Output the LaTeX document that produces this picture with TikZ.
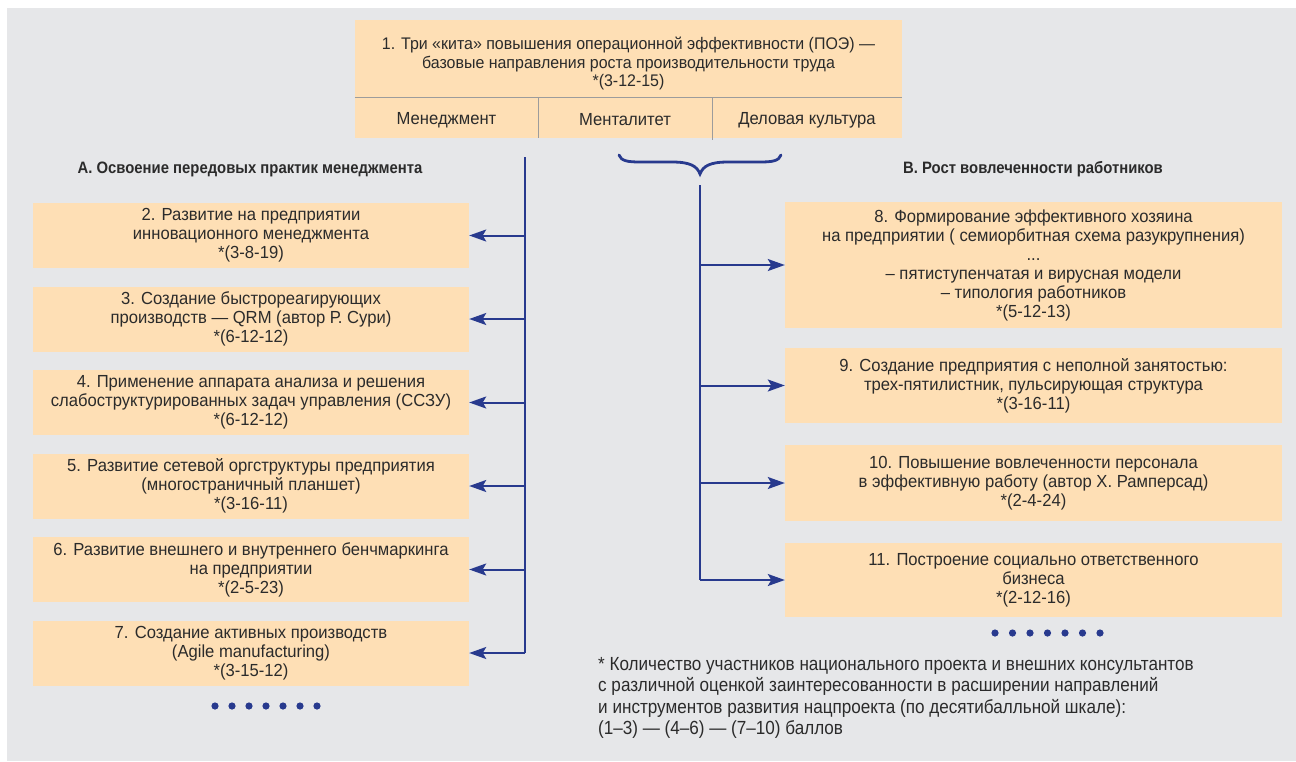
\documentclass[tikz,border=0pt]{standalone}
\usepackage{fontspec}
\setmainfont{Liberation Sans}[FakeStretch=0.9]
\newfontfamily\boxfont{Liberation Sans}[FakeStretch=0.95]
\usetikzlibrary{positioning, arrows.meta}
\definecolor{bggray}{HTML}{E6E7E9}
\definecolor{boxfill}{HTML}{FEDFB5}
\definecolor{navy}{HTML}{283A8E}
\definecolor{inkgray}{HTML}{2B2B2B}
\definecolor{rulegray}{HTML}{9C9C9C}
\tikzset{
every node/.style={text=inkgray, font=\boxfont\fontsize{17.5}{19}\selectfont, align=center, inner sep=0pt}, % all texts
lbox/.style={fill=boxfill, minimum width=436pt, minimum height=65pt}, % boxes of column A
rbox/.style={fill=boxfill, minimum width=497pt}, % boxes of column B
head/.style={font=\fontsize{16.5}{18.5}\selectfont\bfseries}, % column titles
link/.style={draw=navy, line width=2pt, -{Stealth[length=17pt, width=12pt, inset=3.5pt]}}, % trunk to box
trunk/.style={draw=navy, line width=2pt}, % vertical lines
divider/.style={draw=rulegray, line width=0.8pt}, % rules in the top box
node distance=83.5pt, % pitch of the boxes in column A
}

\begin{document}
\begin{tikzpicture}[x=1pt, y=-1pt]
                \useasboundingbox (0,0) rectangle (1296,761);
                \fill[bggray] (7,8) rectangle (1296,761);

                % top box
                \node[fill=boxfill, minimum width=547pt, minimum height=118pt] (p1) at (628.5,79) {};
                \node[font=\boxfont\fontsize{16.8}{18.5}\selectfont] (p1text) at (628.5,64) {1. Три «кита» повышения операционной эффективности (ПОЭ) —\\базовые направления роста производительности труда\\*(3-12-15)};
                \draw[divider] (p1.west |- 0,97) -- (p1.east |- 0,97);
                \draw[divider] (538,97) -- (538,138);
                \draw[divider] (712,97) -- (712,140);
                \node (m1) at (446.5,120) {Менеджмент};
                \node (m2) at (625,120) {Менталитет};
                \node (m3) at (807,120) {Деловая культура};

                % brace
                \draw[navy, line width=2.8pt, line cap=round]
                    (619,155) .. controls (621,161) and (628,162) .. (640,162) -- (672,162)
                    .. controls (690,162) and (697,166) .. (700,174)
                    .. controls (703,166) and (710,162) .. (728,162) -- (760,162)
                    .. controls (772,162) and (779,161) .. (781,155);

                % column A
                \node[head] (ha) at (250,169) {А. Освоение передовых практик менеджмента};
                \node[lbox] (p2) at (251,235.5) {2. Развитие на предприятии\\инновационного менеджмента\\*(3-8-19)};
                \node[lbox, below of=p2] (p3) {3. Создание быстрореагирующих\\производств — QRM (автор Р. Сури)\\*(6-12-12)};
                \node[lbox, below of=p3] (p4) {4. Применение аппарата анализа и решения\\слабоструктурированных задач управления (ССЗУ)\\*(6-12-12)};
                \node[lbox, below of=p4] (p5) {5. Развитие сетевой оргструктуры предприятия\\(многостраничный планшет)\\*(3-16-11)};
                \node[lbox, below of=p5] (p6) {6. Развитие внешнего и внутреннего бенчмаркинга\\на предприятии\\*(2-5-23)};
                \node[lbox, below of=p6] (p7) {7. Создание активных производств\\(Agile manufacturing)\\*(3-15-12)};

                % column B
                \node[head] (hb) at (1033,169) {В. Рост вовлеченности работников};
                \node[rbox, minimum height=126pt] (p8) at (1033.5,265) {8. Формирование эффективного хозяина\\на предприятии ( семиорбитная схема разукрупнения)\\...\\– пятиступенчатая и вирусная модели\\– типология работников\\*(5-12-13)};
                \node[rbox, minimum height=75pt] (p9) at (1033.5,385.5) {9. Создание предприятия с неполной занятостью:\\трех-пятилистник, пульсирующая структура\\*(3-16-11)};
                \node[rbox, minimum height=76pt] (p10) at (1033.5,483) {10. Повышение вовлеченности персонала\\в эффективную работу (автор Х. Рамперсад)\\*(2-4-24)};
                \node[rbox, minimum height=74pt] (p11) at (1033.5,580) {11. Построение социально ответственного\\бизнеса\\*(2-12-16)};

                % connectors
                \coordinate (ltop) at (525,157);
                \coordinate (rtop) at (700,185);
                \draw[trunk] (ltop) -- (ltop |- p7.east);
                \draw[trunk] (rtop) -- (rtop |- p11.west);
                \foreach \p in {p2,p3,p4,p5,p6,p7}
                    \draw[link] (ltop |- \p.east) -- (\p.east);
                \foreach \p in {p8,p9,p10,p11}
                    \draw[link] (rtop |- \p.west) -- (\p.west);

                % dots
                \foreach \i in {0,...,6}
                    \fill[navy] (215+\i*17,706) circle (3.6);
                \foreach \i in {0,...,6}
                    \fill[navy] (995+\i*17.5,633) circle (3.6);

                % footnote
                \node[anchor=north west, align=left, font=\fontsize{19}{21.5}\selectfont] (note) at (598,657)
                    {* Количество участников национального проекта и внешних консультантов\\с различной оценкой заинтересованности в расширении направлений\\и инструментов развития нацпроекта (по десятибалльной шкале):\\(1–3) — (4–6) — (7–10) баллов};
\end{tikzpicture}
\end{document}
